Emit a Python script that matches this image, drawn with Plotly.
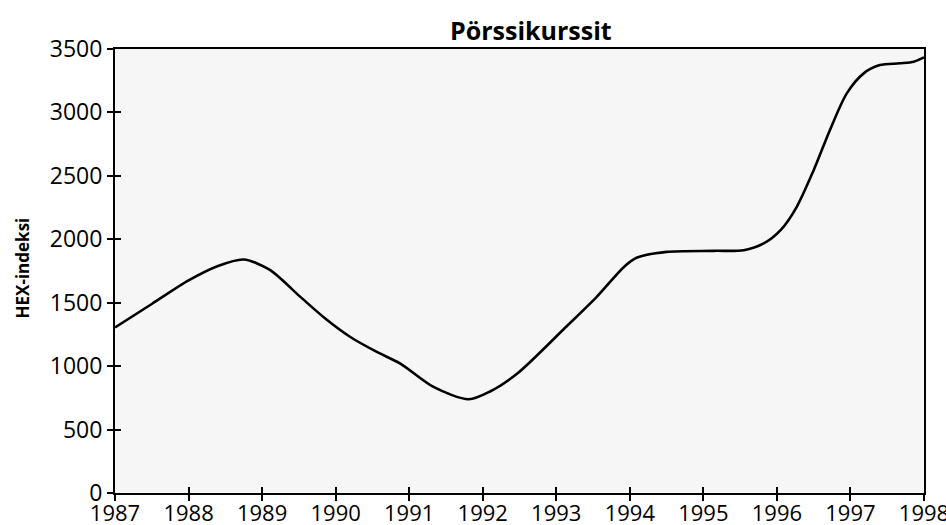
import plotly.graph_objects as go

years = [1987.0, 1987.5, 1988.0, 1988.4, 1988.75, 1989.1, 1989.52, 1989.85, 1990.2, 1990.56, 1990.88,
         1991.33, 1991.81, 1992.1, 1992.47, 1993.1, 1993.55, 1993.92, 1994.1, 1994.5, 1995.14,
         1995.55, 1995.82, 1996.05, 1996.27, 1996.5, 1996.72, 1996.95, 1997.18, 1997.4, 1997.67,
         1997.86, 1998.0]
hex_index = [1305, 1490, 1676, 1790, 1841, 1760, 1546, 1380, 1230, 1112, 1020,
             836, 739, 800, 942, 1291, 1546, 1782, 1856, 1901, 1909,
             1914, 1967, 2072, 2256, 2545, 2860, 3150, 3308, 3373, 3387,
             3400, 3434]

x_ticks = list(range(1987, 1999))
y_ticks = list(range(0, 3501, 500))

FONT = "Open Sans"

fig = go.Figure()
fig.add_trace(go.Scatter(x=years, y=hex_index, mode="lines",
                         line=dict(color="black", width=2.6, shape="spline", smoothing=0.8),
                         showlegend=False, hoverinfo="skip"))
# invisible twin used only for inward tick marks
fig.add_trace(go.Scatter(x=years, y=hex_index, mode="lines", xaxis="x2", yaxis="y2",
                         line=dict(color="rgba(0,0,0,0)", width=0),
                         showlegend=False, hoverinfo="skip"))

fig.update_layout(
    width=946, height=525,
    margin=dict(l=115, r=22, t=49, b=32, autoexpand=False),
    paper_bgcolor="white",
    plot_bgcolor="#f6f6f6",
    font=dict(family=FONT, color="black"),
    xaxis=dict(range=[1987, 1998], tickvals=x_ticks, ticktext=[str(v) for v in x_ticks],
               showgrid=False, zeroline=False, showline=True, linecolor="black", linewidth=2,
               mirror=True, ticks="outside", ticklen=6, tickwidth=1.5, tickcolor="black",
               automargin=False, ticklabeloverflow="allow", ticklabelstandoff=-6,
               tickfont=dict(family=FONT, size=22, color="black")),
    yaxis=dict(range=[0, 3500], tickvals=y_ticks,
               showgrid=False, zeroline=False, showline=True, linecolor="black", linewidth=2,
               mirror=True, ticks="outside", ticklen=6, tickwidth=1.5, tickcolor="black",
               automargin=False, ticklabeloverflow="allow",
               tickfont=dict(family=FONT, size=23, color="black")),
    xaxis2=dict(overlaying="x", range=[1987, 1998], tickvals=x_ticks, showticklabels=False,
                showgrid=False, zeroline=False, showline=False, ticks="inside", ticklen=6,
                tickwidth=1.5, tickcolor="black", side="bottom", automargin=False),
    yaxis2=dict(overlaying="y", range=[0, 3500], tickvals=y_ticks, showticklabels=False,
                showgrid=False, zeroline=False, showline=False, ticks="inside", ticklen=6,
                tickwidth=1.5, tickcolor="black", side="left", automargin=False),
    annotations=[
        dict(text="<b>Pörssikurssit</b>", xref="paper", yref="paper", x=0.514, y=1.043,
             xanchor="center", yanchor="middle", showarrow=False,
             font=dict(family=FONT, size=25, color="black")),
        dict(text="<b>HEX-indeksi</b>", xref="paper", yref="paper", x=-0.115, y=0.508,
             xanchor="center", yanchor="middle", showarrow=False, textangle=-90,
             font=dict(family=FONT, size=17, color="black")),
    ],
)

fig.write_html("out.html", config={"displayModeBar": False},
               post_script="document.body.style.margin='0px';document.body.style.overflow='hidden';")
